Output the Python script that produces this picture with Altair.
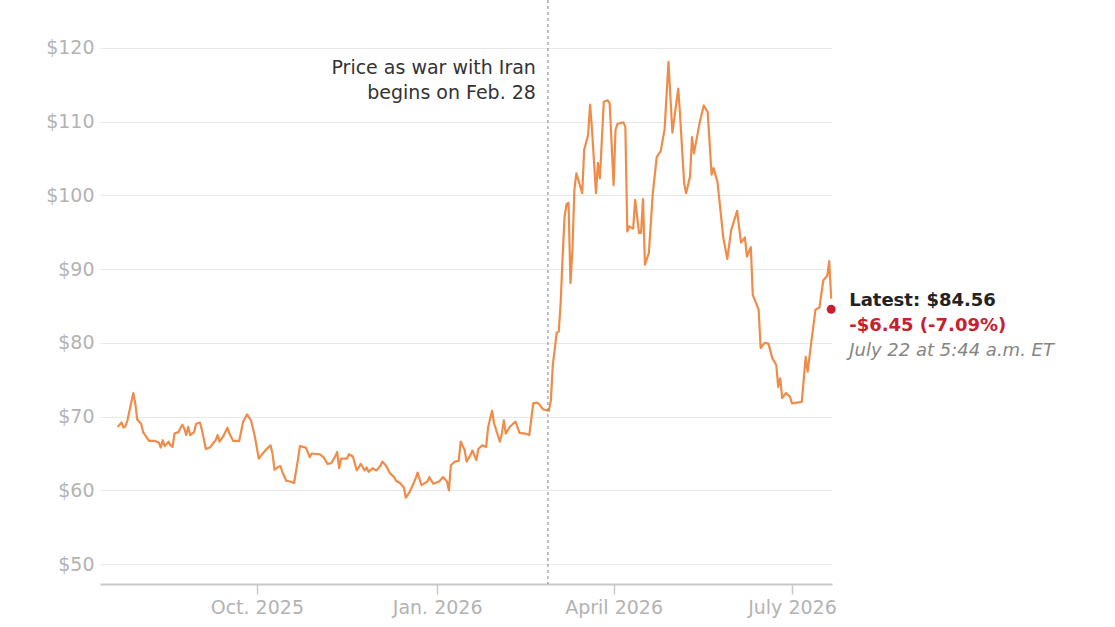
import altair as alt
import pandas as pd

# ---- data ----
dates = [
    "2025-07-22", "2025-07-24", "2025-07-25", "2025-07-26", "2025-07-27", "2025-07-30", "2025-07-31",
    "2025-08-01", "2025-08-03", "2025-08-04", "2025-08-07", "2025-08-10", "2025-08-12", "2025-08-13",
    "2025-08-14", "2025-08-15", "2025-08-17", "2025-08-18", "2025-08-19", "2025-08-20", "2025-08-22",
    "2025-08-24", "2025-08-25", "2025-08-26", "2025-08-27", "2025-08-28", "2025-08-30", "2025-08-31",
    "2025-09-02", "2025-09-03", "2025-09-05", "2025-09-07", "2025-09-10", "2025-09-11", "2025-09-12",
    "2025-09-14", "2025-09-16", "2025-09-17", "2025-09-19", "2025-09-22", "2025-09-24", "2025-09-26",
    "2025-09-28", "2025-09-30", "2025-10-02", "2025-10-04", "2025-10-06", "2025-10-08", "2025-10-09",
    "2025-10-10", "2025-10-12", "2025-10-13", "2025-10-14", "2025-10-16", "2025-10-18", "2025-10-20",
    "2025-10-22", "2025-10-23", "2025-10-26", "2025-10-28", "2025-10-29", "2025-11-02", "2025-11-04",
    "2025-11-06", "2025-11-08", "2025-11-10", "2025-11-11", "2025-11-12", "2025-11-13", "2025-11-16",
    "2025-11-17", "2025-11-19", "2025-11-21", "2025-11-22", "2025-11-23", "2025-11-25", "2025-11-26",
    "2025-11-27", "2025-11-29", "2025-12-01", "2025-12-03", "2025-12-04", "2025-12-06", "2025-12-08",
    "2025-12-10", "2025-12-11", "2025-12-13", "2025-12-15", "2025-12-16", "2025-12-18", "2025-12-21",
    "2025-12-22", "2025-12-24", "2025-12-27", "2025-12-28", "2025-12-30", "2026-01-02", "2026-01-04",
    "2026-01-06", "2026-01-07", "2026-01-08", "2026-01-10", "2026-01-12", "2026-01-13", "2026-01-15",
    "2026-01-16", "2026-01-18", "2026-01-19", "2026-01-21", "2026-01-22", "2026-01-24", "2026-01-26",
    "2026-01-27", "2026-01-29", "2026-01-30", "2026-02-02", "2026-02-03", "2026-02-04", "2026-02-05",
    "2026-02-07", "2026-02-09", "2026-02-10", "2026-02-12", "2026-02-15", "2026-02-17", "2026-02-19",
    "2026-02-21", "2026-02-22", "2026-02-24", "2026-02-27", "2026-02-28", "2026-03-01", "2026-03-03",
    "2026-03-04", "2026-03-05", "2026-03-06", "2026-03-07", "2026-03-08", "2026-03-09", "2026-03-10",
    "2026-03-11", "2026-03-12", "2026-03-13", "2026-03-14", "2026-03-16", "2026-03-17", "2026-03-19",
    "2026-03-20", "2026-03-21", "2026-03-23", "2026-03-24", "2026-03-25", "2026-03-27", "2026-03-29",
    "2026-03-30", "2026-04-01", "2026-04-02", "2026-04-03", "2026-04-06", "2026-04-07", "2026-04-08",
    "2026-04-09", "2026-04-11", "2026-04-12", "2026-04-14", "2026-04-15", "2026-04-16", "2026-04-17",
    "2026-04-19", "2026-04-21", "2026-04-23", "2026-04-25", "2026-04-27", "2026-04-29", "2026-05-01",
    "2026-05-04", "2026-05-05", "2026-05-07", "2026-05-08", "2026-05-10", "2026-05-11", "2026-05-12",
    "2026-05-15", "2026-05-17", "2026-05-19", "2026-05-21", "2026-05-22", "2026-05-24", "2026-05-27",
    "2026-05-29", "2026-05-31", "2026-06-03", "2026-06-05", "2026-06-07", "2026-06-08", "2026-06-10",
    "2026-06-11", "2026-06-14", "2026-06-15", "2026-06-17", "2026-06-19", "2026-06-21", "2026-06-23",
    "2026-06-24", "2026-06-25", "2026-06-26", "2026-06-28", "2026-06-30", "2026-07-01", "2026-07-06",
    "2026-07-08", "2026-07-09", "2026-07-11", "2026-07-13", "2026-07-15", "2026-07-17", "2026-07-19",
    "2026-07-20", "2026-07-21",
]
prices = [
    68.6, 69.2, 68.5, 68.7, 69.5, 73.2, 71.8,
    69.6, 69.0, 67.9, 66.7, 66.7, 66.5, 65.8,
    66.8, 66.0, 66.6, 66.1, 65.9, 67.7, 67.9,
    68.9, 68.4, 67.5, 68.6, 67.5, 67.9, 69.0,
    69.2, 68.2, 65.6, 65.8, 66.8, 67.5, 66.6,
    67.4, 68.5, 67.7, 66.7, 66.7, 69.3, 70.3,
    69.5, 67.3, 64.3, 65.0, 65.6, 66.1, 65.0,
    62.8, 63.2, 63.3, 62.5, 61.3, 61.2, 61.0,
    64.2, 66.0, 65.8, 64.5, 65.0, 64.9, 64.5,
    63.6, 63.7, 64.6, 65.2, 63.0, 64.3, 64.3,
    64.9, 64.6, 62.7, 63.1, 63.6, 62.7, 63.1,
    62.5, 63.0, 62.7, 63.3, 63.9, 63.3, 62.3,
    61.8, 61.3, 61.0, 60.4, 59.0, 59.8, 61.6,
    62.4, 60.7, 61.2, 61.8, 60.9, 61.2, 61.8,
    61.2, 60.0, 63.4, 63.9, 64.0, 66.6, 65.5,
    63.9, 64.8, 65.4, 64.1, 65.6, 66.1, 65.9,
    68.6, 70.8, 69.1, 66.6, 67.7, 69.5, 67.7,
    68.6, 69.1, 69.3, 67.8, 67.7, 67.5, 71.8,
    71.9, 71.7, 71.0, 70.8, 72.2, 77.0, 81.4,
    81.5, 85.4, 91.7, 97.1, 98.8, 99.0, 88.1,
    92.6, 100.7, 103.0, 102.1, 100.3, 106.2, 108.2,
    112.3, 108.9, 100.3, 104.4, 102.3, 112.7, 112.9,
    112.5, 101.4, 108.9, 109.7, 109.9, 109.3, 95.1,
    95.8, 95.5, 99.4, 94.9, 94.9, 99.5, 90.6,
    92.2, 100.3, 105.2, 106.0, 108.9, 118.1, 108.5,
    114.5, 110.5, 101.6, 100.3, 102.6, 107.9, 105.7,
    110.0, 112.2, 111.3, 102.8, 103.7, 101.8, 94.2,
    91.4, 95.3, 97.9, 93.6, 94.3, 91.7, 93.0,
    86.5, 84.5, 79.3, 80.0, 79.9, 77.9, 77.0,
    74.0, 75.2, 72.5, 73.2, 72.7, 71.8, 72.0,
    78.1, 76.1, 80.4, 84.5, 84.8, 88.5, 89.1,
    91.1, 86.0,
]

latest_date = ["2026-07-21"]
latest_price = [84.56]
war_date = ["2026-02-26T12:00:00"]

y_ticks = [50, 60, 70, 80, 90, 100, 110, 120]
month_names = ["Jan.", "Feb.", "March", "April", "May", "June", "July",
               "Aug.", "Sept.", "Oct.", "Nov.", "Dec."]

annotation_lines = ["Price as war with Iran", "begins on Feb. 28"]
latest_lines = ["Latest: $84.56", "-$6.45 (-7.09%)", "July 22 at 5:44 a.m. ET"]

# ---- build ----
df = pd.DataFrame({"date": dates, "price": prices})
df_latest = pd.DataFrame({"date": latest_date, "price": latest_price})
df_war = pd.DataFrame({"date": war_date})

FONT = "DejaVu Sans"
ORANGE = "#ef8c49"
RED = "#c8202f"

x_scale = alt.Scale(
    type="utc",
    domain=[alt.DateTime(year=2025, month=7, date=13, utc=True),
            alt.DateTime(year=2026, month=7, date=21, hours=10, utc=True)],
)
y_scale = alt.Scale(domain=[47.3, 126.5], nice=False, zero=False)

label_expr = (
    "[" + ",".join("'" + m + "'" for m in month_names) + "][utcmonth(datum.value)]"
    " + ' ' + utcyear(datum.value)"
)

x_enc = alt.X(
    "date:T",
    scale=x_scale,
    title=None,
    axis=alt.Axis(
        values=[alt.DateTime(year=2025, month=10, date=1, utc=True),
                alt.DateTime(year=2026, month=1, date=1, utc=True),
                alt.DateTime(year=2026, month=4, date=1, utc=True),
                alt.DateTime(year=2026, month=7, date=1, utc=True)],
        labelExpr=label_expr,
        grid=False,
        domainColor="#c8c8c8",
        domainWidth=2,
        tickColor="#c8c8c8",
        tickWidth=1.5,
        tickSize=10,
        labelPadding=4,
        labelFont=FONT,
        labelFontSize=19,
        labelColor="#b3b3b3",
    ),
)
y_enc = alt.Y(
    "price:Q",
    scale=y_scale,
    title=None,
    axis=alt.Axis(
        values=y_ticks,
        labelExpr="'$' + datum.value",
        grid=True,
        gridColor="#e8e8e8",
        gridWidth=1,
        domain=False,
        ticks=False,
        labelPadding=6,
        labelFont=FONT,
        labelFontSize=19,
        labelColor="#b3b3b3",
    ),
)

line = alt.Chart(df).mark_line(color=ORANGE, strokeWidth=2.2, strokeJoin="round").encode(
    x=x_enc, y=y_enc
)

rule = alt.Chart(df_war).mark_rule(color="#808080", strokeWidth=1, strokeDash=[3, 3]).encode(
    x=alt.X("date:T", scale=x_scale),
    y=alt.value(0),
    y2=alt.value(584),
)

ann1 = alt.Chart(df_war).mark_text(
    align="right", baseline="middle", dx=-12, font=FONT, fontSize=19, color="#333333",
    text=annotation_lines[0],
).encode(x=alt.X("date:T", scale=x_scale), y=alt.value(68))
ann2 = alt.Chart(df_war).mark_text(
    align="right", baseline="middle", dx=-12, font=FONT, fontSize=19, color="#333333",
    text=annotation_lines[1],
).encode(x=alt.X("date:T", scale=x_scale), y=alt.value(93))

dot = alt.Chart(df_latest).mark_point(filled=True, color=RED, size=80, opacity=1).encode(
    x=alt.X("date:T", scale=x_scale), y=alt.Y("price:Q", scale=y_scale)
)

def latest_text(txt, dy, color, weight, style, size):
    return alt.Chart(df_latest).mark_text(
        align="left", baseline="middle", dx=18, dy=dy, font=FONT, fontSize=size,
        fontWeight=weight, fontStyle=style, color=color, text=txt,
    ).encode(x=alt.X("date:T", scale=x_scale), y=alt.Y("price:Q", scale=y_scale))

t1 = latest_text(latest_lines[0], -8, "#222222", "bold", "normal", 18)
t2 = latest_text(latest_lines[1], 17, RED, "bold", "normal", 18)
t3 = latest_text(latest_lines[2], 42, "#858585", "normal", "italic", 18)

chart = alt.layer(line, rule, ann1, ann2, dot, t1, t2, t3).properties(
    width=732,
    height=584,
    autosize=alt.AutoSizeParams(type="none"),
    padding={"left": 100, "top": 0, "right": 283, "bottom": 43},
    background="white",
).configure_view(stroke=None)

chart.save("out.html", embed_options={"renderer": "svg", "actions": False})
